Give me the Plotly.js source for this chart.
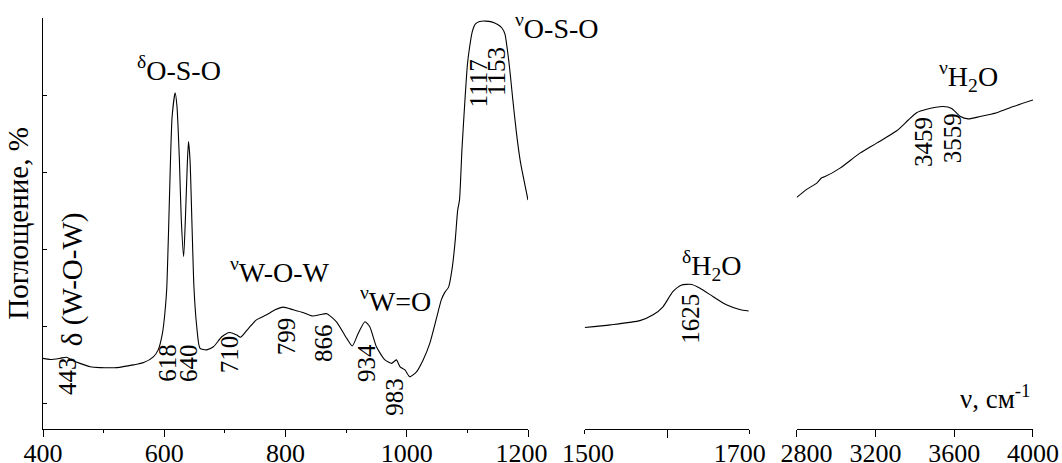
<!DOCTYPE html>
<html>
<head>
<meta charset="utf-8">
<script src="https://cdn.plot.ly/plotly-3.0.1.min.js"></script>
<style>html,body{margin:0;padding:0;background:#fff;}#chart{width:1062px;height:463px;}</style>
</head>
<body>
<div id="chart"></div>
<script>
// Panel 1: 400-1200 cm-1
const x1 = [400,412,428,439,447,461,478,494,522,549,566,582,590,597,601,604,607,610,613,618,621,625,628,632,635,638,640,642.5,646,649,653.5,659,670,681,695,708,719,726,739,752,769,783,796,813,829,845,858,868,884,901,910,920,931,939,950,964,975,980,983,989,997,1005,1016,1027,1038,1049,1057,1063,1069,1075,1080,1084,1087,1091,1096,1100,1103,1108,1113,1120,1130,1140,1150,1157,1162,1166,1170,1175,1181,1187,1190,1195,1200];
const y1 = [11.6,11.3,11.6,11.9,11.2,10.3,9.4,9.2,9.2,9.9,10.5,12.0,13.8,18.1,23.3,29.4,44.1,61.4,74.4,80.6,77.0,63,48,38.0,48.4,62,67.9,63.1,45,30,20,14.2,13.8,14.6,17.2,18.3,17.7,17.1,19.4,21.6,22.9,24.2,24.9,24.2,23.5,22.6,23.0,23.2,21.1,16.8,14.8,18.1,21.1,19.8,14.6,11.2,10.3,10.9,11.2,9.4,8.6,6.8,8.1,11.2,15.5,22.0,26.8,28.8,30.1,35.1,42.3,50.1,52.7,65.7,78.7,87.8,91.7,96.4,98.4,99.1,99.2,99.0,98.3,97.4,95.8,91.7,86.5,78.7,70.1,63.1,60.5,56.6,52.7];
// Panel 2: 1500-1700 cm-1
const x2 = [1500,1531,1567,1583,1595,1607,1617,1630,1640,1656,1672,1688,1699];
const y2 = [19.6,20.3,21.4,22.9,25.0,28.9,30.6,30.8,29.8,27.6,25.5,24.3,23.9];
// Panel 3: 2800-4000 cm-1
const x3 = [2800,2851,2902,2927,2944,3020,3121,3206,3308,3367,3409,3460,3544,3587,3629,3671,3731,3816,3900,4000];
const y3 = [53.4,55.5,57.1,58.5,58.8,61.0,64.9,67.5,70.7,73.5,75.4,76.3,77.0,76.5,74.5,73.8,74.4,75.4,77.0,78.7];

// Tick labels
const ticks1 = [400,600,800,1000,1200];
const tickText1 = ['400','600','800','1000','1200\u00a0\u00a0'];
const ticks2 = [1500,1700];
const tickText2 = ['\u00a01500','1700\u00a0\u00a0\u00a0'];
const ticks3 = [2800,3200,3600,4000];
const tickText3 = ['\u00a0\u00a0\u00a02800','3200','3600','4000'];

// Peak wavenumber labels
const peakText = ['443','618','640','710','799','866','934','983','1117','1153','1625','3459','3559'];
const peakAxis = ['x','x','x','x','x','x','x','x','x','x','x2','x3','x3'];
const peakPos = [[439.6,7.0],[606,10.4],[641,10.4],[707,12.7],[801,17.4],[863.5,15.6],[934.4,10.4],[980.6,1.6],[1117.5,83],[1149,86],[1627.5,21.8],[3446,67.8],[3589,68.8]];

// Band assignment labels
const bandText = ['<sup>δ</sup>O-S-O','<sup>ν</sup>W-O-W','<sup>ν</sup>W=O','<sup>ν</sup>O-S-O','<sup>δ</sup>H<sub>2</sub>O','<sup>ν</sup>H<sub>2</sub>O'];
const bandAxis = ['x','x','x','x','x2','x3'];
const bandPos = [[551.8,87],[705,34.5],[919.6,27.0],[1175,97.9],[1615.4,35.6],[3512,84.7]];

const FONT = 'Liberation Serif';
const lineStyle = {color:'#000', width:1.1, shape:'spline', smoothing:0.6};

const traces = [
  {x:x1, y:y1, xaxis:'x', yaxis:'y', mode:'lines', line:lineStyle, hoverinfo:'skip'},
  {x:x2, y:y2, xaxis:'x2', yaxis:'y', mode:'lines', line:lineStyle, hoverinfo:'skip'},
  {x:x3, y:y3, xaxis:'x3', yaxis:'y', mode:'lines', line:lineStyle, hoverinfo:'skip'}
];

const annotations = [];
peakText.forEach((t,i)=>{
  annotations.push({text:t, xref:peakAxis[i], yref:'y', x:peakPos[i][0], y:peakPos[i][1],
    textangle:-90, showarrow:false, xanchor:'center', yanchor:'middle',
    font:{family:FONT, size:25, color:'#000'}});
});
bandText.forEach((t,i)=>{
  annotations.push({text:t, xref:bandAxis[i], yref:'y', x:bandPos[i][0], y:bandPos[i][1],
    showarrow:false, xanchor:'left', yanchor:'middle',
    font:{family:FONT, size:28, color:'#000'}});
});
annotations.push({text:'δ (W-O-W)', xref:'x', yref:'y', x:448, y:32.2, textangle:-90, showarrow:false,
  xanchor:'center', yanchor:'middle', font:{family:FONT, size:29, color:'#000'}});
annotations.push({text:'ν, см<sup>-1</sup>', xref:'x3', yref:'y', x:4000, y:1.6, showarrow:false,
  xanchor:'right', yanchor:'middle', font:{family:FONT, size:27, color:'#000'}});

const xBase = {showline:true, linecolor:'#000', linewidth:1, ticks:'outside', ticklen:7, tickwidth:1,
  tickcolor:'#000', showgrid:false, zeroline:false, anchor:'y', fixedrange:true, ticklabelstandoff:-6,
  ticklabeloverflow:'allow', tickfont:{family:FONT, size:26, color:'#000'}};

const layout = {
  width:1062, height:463,
  margin:{l:43, r:29, t:18, b:34, pad:0},
  paper_bgcolor:'#fff', plot_bgcolor:'#fff',
  showlegend:false,
  font:{family:FONT, color:'#000'},
  xaxis: Object.assign({}, xBase, {domain:[0,0.4899], range:[400,1200], tickmode:'array',
    tickvals:ticks1, ticktext:tickText1,
    minor:{ticks:'outside', ticklen:3, tickcolor:'#000', tickmode:'array', tickvals:[500,700,900,1100], showgrid:false}}),
  xaxis2: Object.assign({}, xBase, {domain:[0.5472,0.7136], range:[1500,1700], tickmode:'array',
    tickvals:ticks2, ticktext:tickText2, ticklen:4, ticklabelstandoff:-3,
    minor:{ticks:'outside', ticklen:8, tickcolor:'#000', tickmode:'array', tickvals:[1600], showgrid:false}}),
  xaxis3: Object.assign({}, xBase, {domain:[0.7613,1], range:[2800,4000], tickmode:'array',
    tickvals:ticks3, ticktext:tickText3}),
  yaxis: {range:[-6.75,100], showline:true, linecolor:'#000', linewidth:1, ticks:'inside', ticklen:4,
    tickcolor:'#000', tickmode:'linear', tick0:0, dtick:20, showticklabels:false, showgrid:false,
    zeroline:false, fixedrange:true,
    title:{text:'Поглощение, %', font:{family:FONT, size:29, color:'#000'}, standoff:4}},
  annotations: annotations
};

Plotly.newPlot('chart', traces, layout, {staticPlot:true, displayModeBar:false});
</script>
</body>
</html>
